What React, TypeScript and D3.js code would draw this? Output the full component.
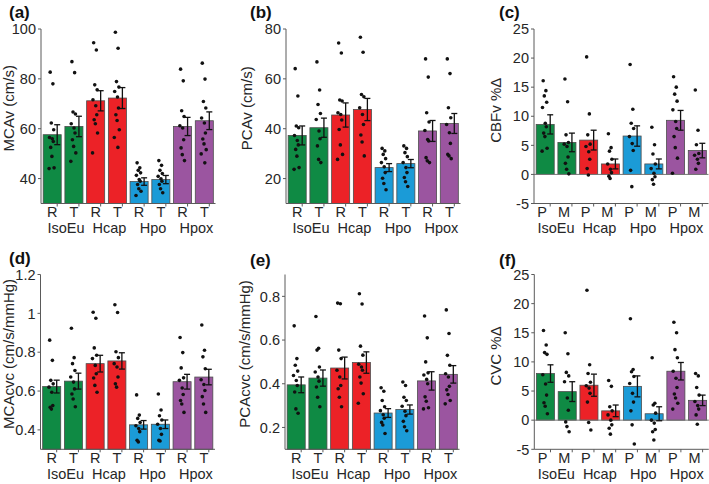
import React from "react";
import * as d3 from "d3";

// ---------- data ----------
const groups = ["IsoEu", "Hcap", "Hpo", "Hpox"];
const groupColors = ["#0f8a44", "#ec2227", "#1b9bd7", "#9b55a0"];
const subRT = ["R", "T"];
const subPM = ["P", "M"];

const aMeans = [57.6, 60.9, 71.2, 72.3, 38.8, 39.6, 60.9, 63.2];
const aSem = [4.0, 4.1, 4.05, 4.2, 1.5, 1.65, 3.65, 3.55];
const aPoints = [
  [82.7, 78, 62.3, 59.6, 56.5, 56, 54.9, 52.5, 48.9, 44.3, 44],
  [86.9, 82.5, 66.7, 65.9, 62, 60.3, 58.3, 55.6, 52.9, 50.3, 46.9],
  [94.5, 91.6, 77.6, 75.6, 71.6, 69.2, 65.6, 63.6, 62, 58.3, 50.3],
  [98.7, 92.3, 78.9, 76.7, 74.9, 72.7, 68.3, 65.6, 63.3, 59.6, 56.5, 52.5],
  [46.3, 44.3, 43.3, 42.3, 41.3, 39.6, 38.9, 37.6, 35.9, 34.9, 33.2],
  [47.2, 45.3, 43.3, 42, 40.9, 39.9, 38.9, 37.6, 35.9, 34.3],
  [83.9, 79.2, 67.2, 64.9, 61.2, 60.3, 55.6, 52.3, 49.6, 47.2],
  [86.3, 79.9, 70.9, 68.3, 64.3, 62.3, 58.3, 55.9, 53.9, 51.6, 49.9, 46.3],
];

const bMeans = [37.3, 40.4, 45.5, 47.7, 24.4, 26.0, 39.1, 42.1];
const bSem = [3.8, 3.85, 4.85, 4.45, 1.6, 1.65, 4.2, 4.0];
const bPoints = [
  [64.1, 53.1, 41.1, 40.4, 37.3, 35.3, 33.5, 31.7, 29, 24.4, 23.7],
  [66.8, 55.5, 49.7, 46.1, 43.7, 39.1, 36, 33.1, 27.7, 26.4],
  [74.4, 70.4, 51.5, 51.1, 46.4, 45.7, 43.5, 39.7, 33.5, 29.7, 27.7],
  [76.7, 70.7, 53.7, 52.8, 48.4, 45.7, 41.7, 37.5, 34.7, 29.1],
  [32.1, 31.1, 29.7, 28, 26.4, 24.7, 22.4, 20.1, 18, 15.5],
  [33.1, 32.1, 30.4, 28.8, 26.4, 24.4, 22.4, 20.4, 18.7, 16.8],
  [68, 60.7, 46.4, 42.7, 39.3, 35.7, 35.1, 28.4, 27.1, 26.4],
  [68, 62.1, 48.4, 44.4, 41.7, 38.4, 34.1, 29.7, 29.1, 28],
];

const cMeans = [8.6, 5.5, 5.9, 1.8, 6.6, 1.8, 9.3, 4.1];
const cSem = [1.65, 1.6, 1.7, 0.85, 1.75, 0.85, 1.7, 1.25];
const cPoints = [
  [16.1, 14.4, 13.5, 12.4, 11.5, 8.8, 8.2, 7.1, 6.5, 4.5, 4.0],
  [16.4, 12.5, 6.8, 5.5, 5.2, 4.8, 3.0, 1.9, 0.9, 0.1],
  [20.2, 10.4, 6.8, 5.2, 4.8, 3.9, 2.6, 1.0, -0.1],
  [7.0, 4.6, 4.0, 2.6, 1.8, 0.9, 0.3, -0.3, -0.7],
  [18.9, 11.2, 8.8, 7.9, 6.5, 5.3, 4.1, 0.7, -2.1],
  [8.1, 5.1, 3.5, 1.8, 1.0, 0.2, -0.4, -0.9, -1.7],
  [16.8, 15.0, 13.8, 12.6, 11.1, 9.1, 7.9, 6.5, 4.6, 2.8, 0.2],
  [14.5, 7.6, 5.1, 3.6, 3.3, 2.6, 1.9, 0.9],
];

const dMeans = [0.623, 0.651, 0.741, 0.755, 0.426, 0.429, 0.648, 0.672];
const dSem = [0.033, 0.041, 0.043, 0.042, 0.022, 0.022, 0.038, 0.04];
const dPoints = [
  [0.862, 0.758, 0.655, 0.637, 0.62, 0.594, 0.525, 0.516, 0.507],
  [0.923, 0.772, 0.741, 0.706, 0.672, 0.646, 0.611, 0.585, 0.559, 0.519],
  [1.006, 0.975, 0.822, 0.784, 0.767, 0.732, 0.689, 0.667, 0.629, 0.594],
  [1.044, 1.004, 0.802, 0.772, 0.741, 0.724, 0.672, 0.637, 0.62],
  [0.58, 0.476, 0.459, 0.438, 0.421, 0.407, 0.391, 0.346, 0.338],
  [0.585, 0.502, 0.473, 0.451, 0.429, 0.407, 0.377, 0.346, 0.343],
  [0.876, 0.798, 0.719, 0.668, 0.655, 0.616, 0.582, 0.551, 0.533, 0.49],
  [0.94, 0.81, 0.776, 0.715, 0.658, 0.634, 0.603, 0.571, 0.533, 0.49],
];

const eMeans = [0.395, 0.426, 0.472, 0.497, 0.266, 0.282, 0.413, 0.443];
const eSem = [0.036, 0.037, 0.05, 0.049, 0.02, 0.021, 0.042, 0.04];
const ePoints = [
  [0.665, 0.515, 0.485, 0.458, 0.438, 0.415, 0.392, 0.362, 0.285, 0.265],
  [0.708, 0.562, 0.554, 0.477, 0.454, 0.431, 0.412, 0.385, 0.338, 0.295],
  [0.769, 0.766, 0.554, 0.515, 0.462, 0.431, 0.392, 0.377, 0.338, 0.295],
  [0.812, 0.765, 0.572, 0.531, 0.489, 0.477, 0.462, 0.431, 0.403, 0.354, 0.311],
  [0.382, 0.366, 0.323, 0.295, 0.277, 0.258, 0.242, 0.223, 0.211, 0.172],
  [0.408, 0.392, 0.338, 0.323, 0.297, 0.274, 0.254, 0.228, 0.203, 0.185],
  [0.71, 0.61, 0.5, 0.45, 0.44, 0.42, 0.4, 0.34, 0.32, 0.29, 0.285],
  [0.738, 0.63, 0.53, 0.485, 0.446, 0.431, 0.388, 0.372, 0.351, 0.323, 0.308],
];

const fMeans = [8.0, 4.9, 6.0, 1.6, 5.8, 1.1, 8.4, 3.4];
const fSem = [1.5, 1.7, 1.9, 1.0, 1.8, 1.2, 1.5, 0.9];
const fPoints = [
  [15.4, 12.9, 11.6, 11.3, 7.8, 6.2, 4.3, 3.0, 2.4, 1.1],
  [15.0, 11.4, 8.2, 7.6, 6.6, 3.8, 1.7, -0.3, -1.1, -2.0],
  [22.3, 9.5, 8.0, 6.5, 5.9, 5.5, 4.6, 3.1, -0.4, -1.7],
  [6.8, 5.8, 2.3, 1.6, 0.9, 0.0, -0.8, -1.4, -2.4],
  [17.4, 8.7, 8.3, 7.5, 6.3, 4.6, 3.1, 1.6, -0.8, -4.1],
  [10.7, 2.9, 2.6, 1.2, 0.0, -0.5, -1.6, -2.0, -3.4],
  [16.8, 15.0, 12.1, 10.7, 8.4, 7.2, 5.6, 4.5, 3.8, 2.9, 1.9],
  [8.0, 7.6, 5.6, 4.3, 3.2, 2.5, 1.9, 0.9, -0.7],
];

const aTicks = [40, 60, 80, 100];
const bTicks = [20, 40, 60, 80];
const pctTicks = [-5, 0, 5, 10, 15, 20, 25];
const dTicks = [0.4, 0.6, 0.8, 1, 1.2];
const eTicks = [0.2, 0.4, 0.6, 0.8];

// ---------- styling ----------
const FONT = "'Liberation Sans', Arial, Helvetica, sans-serif";
const AXIS = "#5a5a5a";
const TEXT = "#262626";
const jitter = [-1.5, 1.2, -0.4, 2.0, -2.2, 0.6, 1.6, -1.0, 0.2, 2.4, -2.6, 1.0];

type PanelProps = {
  axisX: number;
  top: number;
  bottom: number;
  width: number;
  domain: [number, number];
  ticks: number[];
  means: number[];
  sems: number[];
  points: number[][];
  sub: string[];
  yLabel: string;
  yLabelX: number;
  yLabelShift: number;
  label: string;
  labelX: number;
  labelY: number;
  zero?: boolean;
  subShift: number;
};

function Panel(p: PanelProps) {
  const y = d3.scaleLinear().domain(p.domain).range([p.bottom, p.top]);
  const idx = d3.range(8);
  const x = d3
    .scaleBand<number>()
    .domain(idx)
    .range([p.axisX, p.axisX + p.width])
    .paddingInner(0.17)
    .paddingOuter(0.1);
  const bw = x.bandwidth();
  const cx = (i: number) => (x(i) as number) + bw / 2;
  const base = p.zero ? y(0) : p.bottom;
  const midY = (p.top + p.bottom) / 2 + p.yLabelShift;
  return (
    <g>
      <text x={p.labelX} y={p.labelY} fontSize={17} fontWeight="bold" fill="#111" fontFamily={FONT}>
        {p.label}
      </text>
      {/* bars */}
      {idx.map((i) => (
        <rect
          key={"b" + i}
          x={x(i)}
          y={Math.min(y(p.means[i]), base)}
          width={bw}
          height={Math.abs(base - y(p.means[i]))}
          fill={groupColors[Math.floor(i / 2)]}
          stroke="#4d4d4d"
          strokeWidth={0.8}
        />
      ))}
      {p.zero && (
        <line x1={p.axisX} x2={p.axisX + p.width} y1={y(0)} y2={y(0)} stroke="#777" strokeWidth={1} />
      )}
      {/* points */}
      {idx.map((i) =>
        p.points[i].map((v, j) => (
          <circle key={"p" + i + "-" + j} cx={cx(i) - 0.5 + jitter[j % jitter.length]} cy={y(v)} r={1.8} fill="#111" />
        ))
      )}
      {/* error bars */}
      {idx.map((i) => {
        const ex = cx(i) + 5;
        const y1 = y(p.means[i] + p.sems[i]);
        const y2 = y(p.means[i] - p.sems[i]);
        return (
          <g key={"e" + i} stroke="#111" strokeWidth={1.3}>
            <line x1={ex} x2={ex} y1={y1} y2={y2} />
            <line x1={ex - 3} x2={ex + 3} y1={y1} y2={y1} />
            <line x1={ex - 3} x2={ex + 3} y1={y2} y2={y2} />
          </g>
        );
      })}
      {/* axes */}
      <line x1={p.axisX} x2={p.axisX} y1={p.top} y2={p.bottom} stroke={AXIS} strokeWidth={1} />
      <line x1={p.axisX} x2={p.axisX + p.width} y1={p.bottom} y2={p.bottom} stroke={AXIS} strokeWidth={1} />
      {p.ticks.map((t) => (
        <g key={"t" + t}>
          <line x1={p.axisX - 3} x2={p.axisX} y1={y(t)} y2={y(t)} stroke={AXIS} strokeWidth={1} />
          <text
            x={p.axisX - 5}
            y={y(t)}
            dy="0.36em"
            textAnchor="end"
            fontSize={14.5}
            fill={TEXT}
            fontFamily={FONT}
          >
            {String(t)}
          </text>
        </g>
      ))}
      {idx.map((i) => (
        <line key={"xt" + i} x1={cx(i) + 5} x2={cx(i) + 5} y1={p.bottom} y2={p.bottom + 3} stroke={AXIS} strokeWidth={1} />
      ))}
      {idx.map((i) => (
        <text
          key={"s" + i}
          x={cx(i) + p.subShift}
          y={p.bottom + 13.5}
          textAnchor="middle"
          fontSize={14.5}
          fill={TEXT}
          fontFamily={FONT}
        >
          {p.sub[i % 2]}
        </text>
      ))}
      {groups.map((g, k) => (
        <text
          key={"g" + k}
          x={(cx(2 * k) + cx(2 * k + 1)) / 2 + (p.zero ? 0 : 3)}
          y={p.bottom + 29.5}
          textAnchor="middle"
          fontSize={14.5}
          fill={TEXT}
          fontFamily={FONT}
        >
          {g}
        </text>
      ))}
      <text
        transform={`translate(${p.yLabelX},${midY}) rotate(-90)`}
        textAnchor="middle"
        fontSize={15}
        fill={TEXT}
        fontFamily={FONT}
      >
        {p.yLabel}
      </text>
    </g>
  );
}

export default function App() {
  const W = 174.5;
  const r1 = { top: 29, bottom: 203.5 };
  const r2 = { top: 274.5, bottom: 449.3 };
  return (
    <svg width={709} height={484} style={{ position: "absolute", left: 0, top: 0, background: "#fff" }}>
      <Panel axisX={41} {...r1} width={W} domain={[30, 100]} ticks={aTicks} means={aMeans} sems={aSem}
        points={aPoints} sub={subRT} yLabel="MCAv (cm/s)" yLabelX={14} yLabelShift={-8} label="(a)" labelX={9} labelY={18} subShift={0} />
      <Panel axisX={286} {...r1} width={W} domain={[10, 80]} ticks={bTicks} means={bMeans} sems={bSem}
        points={bPoints} sub={subRT} yLabel="PCAv (cm/s)" yLabelX={252} yLabelShift={-8} label="(b)" labelX={250} labelY={18} subShift={0} />
      <Panel axisX={534} {...r1} width={W} domain={[-5, 25]} ticks={pctTicks} means={cMeans} sems={cSem}
        points={cPoints} sub={subPM} yLabel="CBFv %Δ" yLabelX={501} yLabelShift={-6} label="(c)" labelX={499} labelY={18} zero subShift={-3} />
      <Panel axisX={40.5} {...r2} width={W} domain={[0.3, 1.2]} ticks={dTicks} means={dMeans} sems={dSem}
        points={dPoints} sub={subRT} yLabel="MCAcvc (cm/s/mmHg)" yLabelX={14} yLabelShift={-8} label="(d)" labelX={9} labelY={264} subShift={0} />
      <Panel axisX={285} {...r2} width={W} domain={[0.1, 0.9]} ticks={eTicks} means={eMeans} sems={eSem}
        points={ePoints} sub={subRT} yLabel="PCAcvc (cm/s/mmHg)" yLabelX={250} yLabelShift={-8} label="(e)" labelX={250} labelY={266} subShift={0} />
      <Panel axisX={534.3} {...r2} width={W} domain={[-5, 25]} ticks={pctTicks} means={fMeans} sems={fSem}
        points={fPoints} sub={subPM} yLabel="CVC %Δ" yLabelX={501} yLabelShift={-6} label="(f)" labelX={499} labelY={266} zero subShift={-3} />
    </svg>
  );
}
